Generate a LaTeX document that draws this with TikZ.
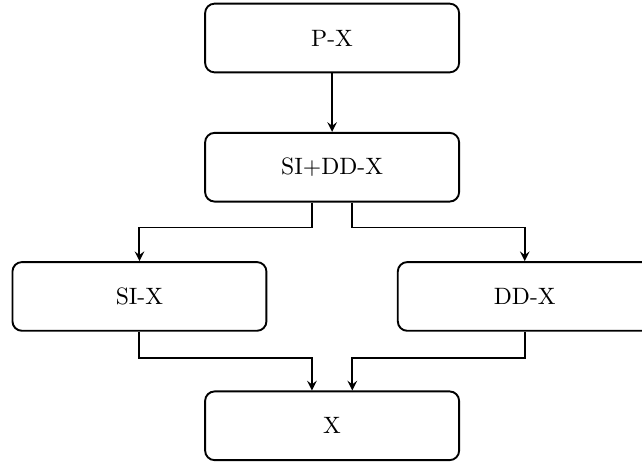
\documentclass[tikz,border=0pt]{standalone}
\usetikzlibrary{positioning}
\tikzset{
  block/.style={rectangle,draw,thick,rounded corners=4pt,minimum width=3.77cm,minimum height=1.02cm},
  flow/.style={->,>=stealth,thick}
}

\begin{document}
\begin{tikzpicture}
    \useasboundingbox (-4.93,-6.35) rectangle (4.60,0.564);
    % Define the boxes, top to bottom
    \node [block] (px) {P-X};
    \node [block, below=0.87cm of px] (sidd) {SI+DD-X};
    \node [block, below=0.87cm of sidd, xshift=-2.86cm] (si) {SI-X};
    \node [block, below=0.87cm of sidd, xshift=2.86cm] (dd) {DD-X};
    \node [block, below=0.87cm of sidd, yshift=-1.92cm] (x) {X};

    % Draw the connectors
    \draw [flow] (px) -- (sidd);
    \draw [flow] ([xshift=-0.3cm]sidd.south) -- ++(0,-0.37) -| (si.north);
    \draw [flow] ([xshift=0.3cm]sidd.south) -- ++(0,-0.37) -| (dd.north);
    \draw [flow] (si.south) -- ++(0,-0.39) -| ([xshift=-0.3cm]x.north);
    \draw [flow] (dd.south) -- ++(0,-0.39) -| ([xshift=0.3cm]x.north);
\end{tikzpicture}
\end{document}
